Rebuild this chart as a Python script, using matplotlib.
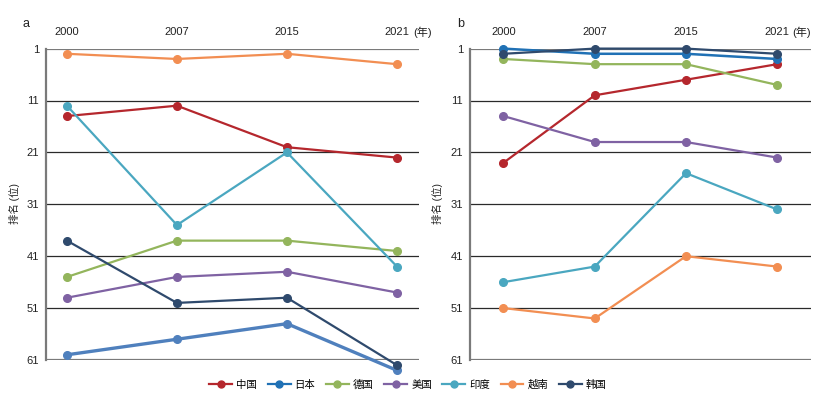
import matplotlib
matplotlib.use("Agg")
import matplotlib.pyplot as plt
from matplotlib.lines import Line2D

plt.rcParams['font.family'] = ['Liberation Sans', 'Noto Sans CJK SC', 'DejaVu Sans']

years = ["2000", "2007", "2015", "2021"]
countries = ["中国", "日本", "德国", "美国", "印度", "越南", "韩国"]
colors = ["#b5272d", "#2071b5", "#93b55c", "#7f62a3", "#4aa7c0", "#f28e52", "#2f4a6d"]

# panel a ranks
rank_a = {
    "中国": [14, 12, 20, 22],
    "日本": [60, 57, 54, 63],
    "德国": [45, 38, 38, 40],
    "美国": [49, 45, 44, 48],
    "印度": [12, 35, 21, 43],
    "越南": [2, 3, 2, 4],
    "韩国": [38, 50, 49, 62],
}
# panel b ranks
rank_b = {
    "中国": [23, 10, 7, 4],
    "日本": [1, 2, 2, 3],
    "德国": [3, 4, 4, 8],
    "美国": [14, 19, 19, 22],
    "印度": [46, 43, 25, 32],
    "越南": [51, 53, 41, 43],
    "韩国": [2, 1, 1, 2],
}
yticks = [1, 11, 21, 31, 41, 51, 61]

fig = plt.figure(figsize=(8.23, 3.97), dpi=100)
W, H = 823, 397
def rect(l, r, t, b):
    return [l / W, 1 - b / H, (r - l) / W, (b - t) / H]

ax_a = fig.add_axes(rect(46, 419, 48.6, 360))
ax_b = fig.add_axes(rect(470, 811, 48.6, 360))

def style(ax, xlim, data, japan_color, japan_lw, ylab_x):
    x = list(range(len(years)))
    for y in yticks:
        if y in (1, 61):
            ax.axhline(y, color="#7a7a7a", lw=1.6, zorder=1)
        else:
            ax.axhline(y, color="#2a2a2a", lw=0.9, zorder=1)
    for c, col in zip(countries, colors):
        lc = col
        lw = 1.6
        if c == "日本":
            lc = japan_color
            lw = japan_lw
        ax.plot(x, data[c], color=lc, lw=lw, marker="o", ms=5.5,
                clip_on=False, zorder=3)
    ax.set_xlim(*xlim)
    ax.set_ylim(61, 1)
    ax.set_yticks(yticks)
    ax.set_yticklabels([str(v) for v in yticks])
    ax.set_xticks(x)
    ax.set_xticklabels(years)
    ax.xaxis.tick_top()
    ax.tick_params(axis="x", length=0, pad=8.5, labelsize=8, colors="#222222")
    ax.tick_params(axis="y", length=0, pad=5, labelsize=8, colors="#222222")
    for s in ["top", "right", "bottom"]:
        ax.spines[s].set_visible(False)
    ax.spines["left"].set_color("#7a7a7a")
    ax.spines["left"].set_linewidth(1.6)
    fig.text(ylab_x / W, 1 - 204 / H, "排名 (位)", rotation=90, ha="center",
             va="center", fontsize=7.5, color="#222222")

style(ax_a, (-0.19, 3.2), rank_a, "#4f80bd", 2.4, 15)
style(ax_b, (-0.367, 3.37), rank_b, "#2071b5", 1.8, 437)

# year unit labels
fig.text(413 / W, 1 - 32.5 / H, "(年)", ha="left", va="center", fontsize=8, color="#222222")
fig.text(792 / W, 1 - 32.5 / H, "(年)", ha="left", va="center", fontsize=8, color="#222222")
fig.text(26 / W, 1 - 24 / H, "a", ha="center", va="center", fontsize=9, color="#222222")
fig.text(461 / W, 1 - 24 / H, "b", ha="center", va="center", fontsize=9, color="#222222")

handles = [Line2D([0], [0], color=col, lw=1.6, marker="o", ms=5) for col in colors]
fig.legend(handles, countries, loc="center", bbox_to_anchor=(408 / W, 1 - 385 / H),
           ncol=7, frameon=False, fontsize=7.5, handlelength=2.2, handletextpad=0.4,
           columnspacing=1.0)

fig.savefig("out.png", dpi=100)
